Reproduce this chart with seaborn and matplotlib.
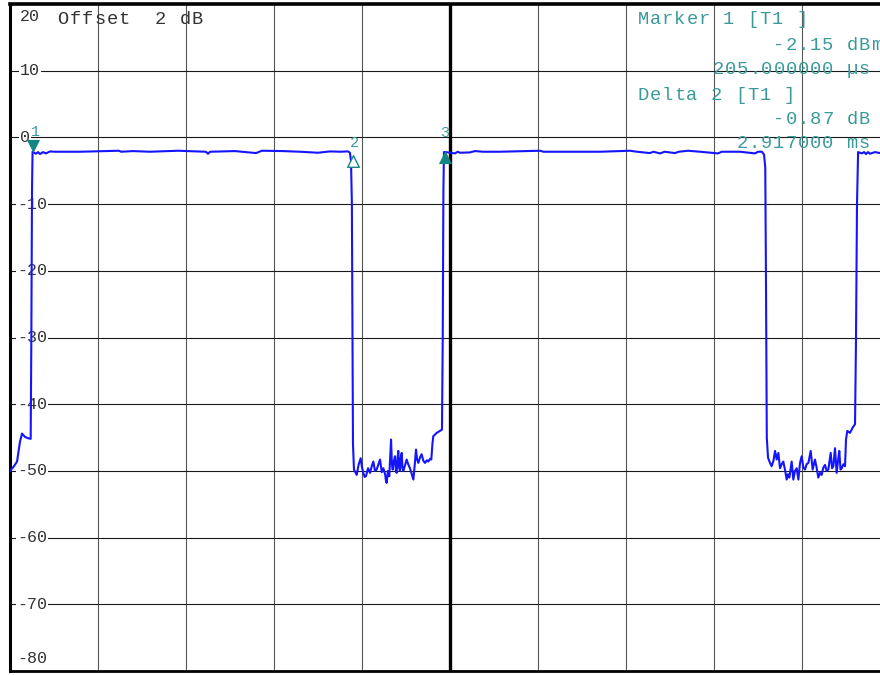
import numpy as np
import pandas as pd
import seaborn as sns
import matplotlib.pyplot as plt

# trace: (time in ms, level in dB), 0.8 ms/div
lead_in = [(0.000, -50.0), (0.036, -49.3), (0.064, -48.6), (0.091, -45.6), (0.109, -44.4),
           (0.136, -44.9), (0.164, -45.1), (0.188, -45.2), (0.194, -30.0), (0.200, -8.0),
           (0.205, -2.15)]
burst1 = [(0.236, -2.45), (0.255, -2.2), (0.273, -2.5), (0.300, -2.2), (0.327, -2.4),
          (0.364, -2.1), (0.410, -2.15), (0.636, -2.15), (0.990, -2.0), (1.010, -2.15),
          (1.118, -2.05), (1.270, -2.15), (1.527, -2.0), (1.780, -2.15), (1.800, -2.45),
          (1.820, -2.15), (2.045, -2.05), (2.236, -2.35), (2.290, -2.0), (2.480, -2.05),
          (2.636, -2.15), (2.800, -2.3), (2.910, -2.1), (3.000, -2.15), (3.073, -2.1),
          (3.090, -2.3), (3.100, -3.5), (3.108, -10.0), (3.113, -27.0), (3.118, -46.0),
          (3.127, -49.8)]
gap1 = [(3.140, -50.2), (3.152, -50.6), (3.170, -49.0), (3.188, -48.1), (3.200, -49.5),
        (3.212, -50.3), (3.224, -50.9), (3.236, -50.8), (3.255, -49.6), (3.273, -50.3),
        (3.290, -49.2), (3.303, -48.6), (3.318, -50.0), (3.333, -49.8), (3.350, -49.0),
        (3.364, -48.3), (3.380, -50.2), (3.394, -49.6), (3.410, -50.5), (3.418, -51.5),
        (3.424, -51.8), (3.436, -50.0), (3.448, -50.8), (3.456, -48.0), (3.464, -45.3),
        (3.472, -49.0), (3.479, -49.8), (3.490, -48.5), (3.500, -47.8), (3.508, -50.0),
        (3.515, -50.3), (3.523, -48.2), (3.530, -47.0), (3.538, -49.5), (3.545, -50.0),
        (3.553, -48.0), (3.561, -47.3), (3.568, -49.6), (3.576, -50.0), (3.590, -49.2),
        (3.606, -48.3), (3.620, -49.0), (3.636, -49.6), (3.652, -50.5), (3.660, -51.0),
        (3.667, -51.3), (3.680, -49.0), (3.691, -46.8), (3.700, -48.2), (3.712, -48.8),
        (3.727, -48.0), (3.742, -47.5), (3.758, -48.5), (3.773, -48.8), (3.790, -48.4),
        (3.803, -48.6), (3.818, -48.2), (3.830, -48.3), (3.840, -46.0), (3.848, -44.8),
        (3.879, -44.3), (3.909, -44.0), (3.927, -43.8), (3.934, -30.0), (3.940, -8.0),
        (3.945, -2.2)]
burst2 = [(3.960, -2.2), (4.000, -2.3), (4.045, -2.4), (4.070, -2.15), (4.090, -2.3),
          (4.180, -2.25), (4.227, -2.05), (4.300, -2.15), (4.450, -2.15), (4.818, -2.0),
          (4.850, -2.15), (5.000, -2.15), (5.364, -2.15), (5.636, -2.0), (5.700, -2.15),
          (5.818, -2.35), (5.850, -2.15), (5.909, -2.4), (5.950, -2.15), (6.045, -2.35),
          (6.080, -2.15), (6.164, -2.0), (6.273, -2.15), (6.436, -2.4), (6.470, -2.15),
          (6.636, -2.15), (6.773, -2.4), (6.800, -2.15), (6.836, -2.15), (6.855, -2.6),
          (6.866, -4.5), (6.872, -20.0), (6.880, -45.0), (6.891, -48.0)]
gap2 = [(6.909, -48.8), (6.924, -49.3), (6.940, -48.5), (6.955, -47.0), (6.970, -48.3),
        (6.985, -47.3), (7.000, -49.6), (7.015, -49.0), (7.030, -48.6), (7.045, -49.8),
        (7.061, -51.3), (7.072, -50.5), (7.085, -51.0), (7.106, -48.6), (7.121, -51.3),
        (7.136, -50.0), (7.152, -49.6), (7.167, -51.3), (7.182, -48.8), (7.197, -47.8),
        (7.212, -49.5), (7.227, -49.8), (7.242, -49.0), (7.258, -48.8), (7.279, -47.0),
        (7.297, -49.8), (7.318, -48.3), (7.333, -49.5), (7.348, -51.0), (7.364, -50.3),
        (7.379, -50.6), (7.394, -49.5), (7.409, -49.1), (7.424, -50.0), (7.439, -49.8),
        (7.461, -47.3), (7.473, -49.6), (7.485, -49.3), (7.500, -46.6), (7.515, -50.3),
        (7.527, -48.5), (7.539, -47.0), (7.550, -49.8), (7.561, -49.6), (7.576, -49.0),
        (7.591, -49.3), (7.600, -45.3), (7.612, -44.0), (7.636, -44.3), (7.661, -43.5),
        (7.682, -43.0), (7.691, -30.0), (7.700, -10.0), (7.710, -2.2)]
burst3 = [(7.745, -2.4), (7.764, -2.2), (7.782, -2.5), (7.800, -2.2), (7.818, -2.45),
          (7.864, -2.2), (7.909, -2.35), (7.950, -2.2), (8.000, -2.2)]

# markers: time, level, label
marker_t = [0.205, 3.122, 3.950]
marker_db = [-2.15, -3.0, -2.2]
marker_names = ['1', '2', '3']

level_ticks = [20, 10, 0, -10, -20, -30, -40, -50, -60, -70, -80]
header_text = 'Offset  2 dB'
readout_lines = ['Marker 1 [T1 ]', '-2.15 dBm', '205.000000 µs',
                 'Delta 2 [T1 ]', '-0.87 dB', '2.917000 ms']

W, H = 880, 675
TEAL = '#3a9a9a'
MARK = '#138585'

df = pd.DataFrame(lead_in + burst1 + gap1 + burst2 + gap2 + burst3,
                  columns=['time_ms', 'level_db'])

sns.set_style('white')
plt.rcParams['font.family'] = ['Liberation Mono', 'DejaVu Sans Mono']

fig = plt.figure(figsize=(W / 100, H / 100), dpi=100)
# axes runs past the right edge of the picture, like the screen capture
ax = fig.add_axes([10 / W, 4 / H, 880 / W, 667 / H])
ax.set_xlim(0, 8)
ax.set_ylim(-80, 20)

ax.set_xticks(np.arange(0, 8.01, 0.8))
ax.set_yticks(level_ticks)
ax.xaxis.grid(True, color='#555555', lw=0.8)
ax.yaxis.grid(True, color='#1a1a1a', lw=0.8)
ax.set_axisbelow(True)
ax.tick_params(length=0, labelleft=False, labelbottom=False)
ax.axvline(4.0, color='black', lw=2.4, zorder=1)
for side, lw in [('left', 2.2), ('top', 2.6), ('bottom', 2.0), ('right', 2.0)]:
    ax.spines[side].set_color('black')
    ax.spines[side].set_linewidth(lw)

sns.lineplot(data=df, x='time_ms', y='level_db', ax=ax, color='#1414ff',
             linewidth=1.5, estimator=None, sort=False, zorder=3)
ax.set_xlabel('')
ax.set_ylabel('')

# level labels sit inside the grid, left side
for v in level_ticks:
    y = v
    if v == 20:
        y = 18.1
    if v == -80:
        y = -78.2
    x = 0.091 if v >= 0 else 0.064
    ax.text(x, y, str(v), ha='left', va='center', fontsize=12, color='#333333',
            bbox=dict(facecolor='white', edgecolor='none', pad=0.5), zorder=2)

# marker symbols
ax.scatter([marker_t[0]], [marker_db[0] + 0.8], marker='v', s=90, color=MARK, zorder=5, lw=0)
ax.scatter([marker_t[1]], [marker_db[1] - 0.5], marker='^', s=70, facecolors='white',
           edgecolors=MARK, lw=1.0, zorder=5)
ax.scatter([marker_t[2]], [marker_db[2] - 0.7], marker='^', s=90, color=MARK, zorder=5, lw=0)
for t, d, name in zip(marker_t, marker_db, marker_names):
    off = 2.9 if name != '2' else 2.2
    dx = 0.025 if name == '1' else 0.005
    ax.text(t + dx, d + off, name, ha='center', va='center', fontsize=11,
            color=TEAL, zorder=5)


def mono_text(x_px, y_px, s, color, pitch=12.2, size=13.5):
    # screen font has a wider pitch than the installed mono font
    for i, ch in enumerate(s):
        if ch == ' ':
            continue
        fig.text((x_px + i * pitch + pitch / 2) / W, 1 - y_px / H, ch,
                 ha='center', va='center', fontsize=size, color=color)


mono_text(57, 19, header_text, '#333333')
readout_x = [637, 773, 712, 637, 773, 736]
readout_y = [20, 45, 70, 95, 119, 144]
for s, xp, yp in zip(readout_lines, readout_x, readout_y):
    mono_text(xp, yp, s, TEAL)

fig.savefig('out.png', dpi=100)
